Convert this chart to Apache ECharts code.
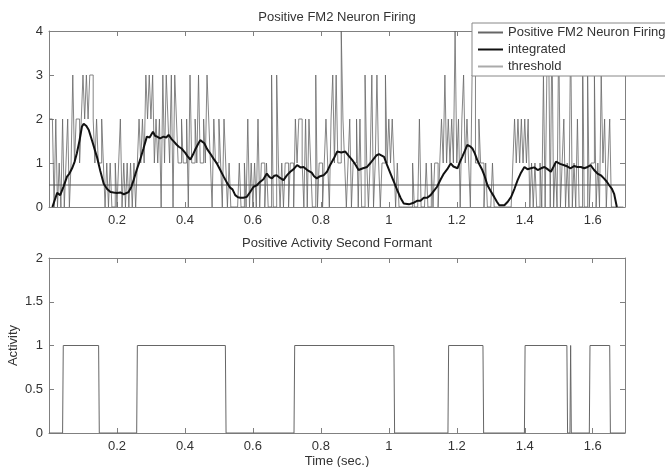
<!DOCTYPE html>
<html>
<head>
<meta charset="utf-8">
<script src="https://cdn.jsdelivr.net/npm/echarts@6/dist/echarts.min.js"></script>
<style>
html,body{margin:0;padding:0;background:#fff;}
#chart{width:665px;height:467px;}
</style>
</head>
<body>
<div id="chart"></div>
<script>
// ---------- data ----------
const topTitle = 'Positive FM2 Neuron Firing';
const bottomTitle = 'Positive Activity Second Formant';
const legendNames = ['Positive FM2 Neuron Firing', 'integrated', 'threshold'];
const xLabel = 'Time (sec.)';
const yLabelBottom = 'Activity';

// spike train (neuron firing counts), sampled every 0.005 s from t = 0
const spikeStart = 0;
const spikeStep = 0.005;
const spikeVals = [
  2,2,2,0,2,0,1,0,2,0, 1,2,0,1,3,1,2,2,1,2,
  3,2,3,2,3,3,2,1,2,1, 1,2,1,0,1,0,1,0,0,1,
  0,1,2,0,1,0,1,0,1,0, 1,0,1,2,1,2,1,3,2,3,
  2,3,1,2,1,2,0,3,1,3, 2,1,3,0,3,2,1,1,2,1,
  1,2,0,3,1,1,2,1,3,1, 1,2,1,3,2,1,0,2,1,1,
  2,1,0,2,1,0,1,0,0,0, 0,0,1,0,0,1,0,2,0,1,
  0,1,0,2,0,1,1,0,1,0, 0,3,0,0,3,1,0,1,0,1,
  1,0,1,1,0,2,1,2,2,1, 0,2,0,2,1,0,0,3,0,1,
  1,0,1,2,1,0,2,3,1,3, 1,1,4,2,1,0,1,2,0,1,
  1,2,0,2,0,0,3,1,0,1, 3,0,1,3,1,0,1,1,3,1,
  2,1,2,1,0,1,0,0,0,0, 0,0,0,0,1,0,0,0,2,0,
  0,0,1,0,0,1,0,1,1,0, 1,2,1,3,1,2,1,2,1,4,
  1,2,0,2,3,1,2,1,0,3, 3,1,1,2,1,1,0,1,0,0,
  0,1,0,0,0,0,0,0,0,0, 0,0,0,1,2,1,2,1,2,1,
  2,1,2,0,1,0,1,0,0,1, 0,3,0,3,4,0,4,0,1,0,
  4,0,1,2,0,1,0,4,0,1, 0,2,0,0,4,0,0,3,0,1,
  1,3,0,1,0,3,1,2,0,1, 2,0,0,0,0,0,0,0,0
];

// integrated (smoothed) firing: [time, value]
const integrated = [
  [0.010,0],[0.024,0.32],[0.033,0.27],[0.043,0.47],[0.053,0.69],[0.060,0.76],[0.068,0.88],[0.075,1.02],[0.082,1.22],[0.090,1.52],[0.097,1.83],
  [0.102,1.89],[0.110,1.84],[0.117,1.75],[0.129,1.45],[0.141,1.14],[0.151,0.82],[0.161,0.53],[0.171,0.41],[0.181,0.34],[0.190,0.33],[0.200,0.32],[0.210,0.33],[0.220,0.29],
  [0.234,0.34],[0.242,0.45],[0.249,0.61],[0.258,0.84],[0.268,1.07],[0.278,1.33],[0.288,1.60],[0.296,1.58],[0.306,1.71],[0.312,1.62],[0.318,1.60],[0.327,1.56],[0.337,1.60],
  [0.345,1.58],[0.352,1.64],[0.360,1.55],[0.367,1.49],[0.375,1.42],[0.382,1.37],[0.390,1.33],[0.401,1.23],[0.408,1.15],[0.416,1.08],[0.423,1.18],[0.430,1.30],[0.438,1.42],[0.445,1.52],
  [0.457,1.45],[0.465,1.32],[0.474,1.22],[0.484,1.10],[0.494,0.99],[0.504,0.84],[0.514,0.69],[0.523,0.56],[0.533,0.44],[0.540,0.40],[0.548,0.27],[0.556,0.22],[0.563,0.21],
  [0.572,0.21],[0.582,0.23],[0.592,0.34],[0.602,0.46],[0.611,0.49],[0.621,0.57],[0.631,0.63],[0.641,0.76],[0.649,0.68],[0.656,0.65],[0.663,0.71],[0.670,0.72],[0.680,0.66],[0.690,0.61],
  [0.700,0.72],[0.710,0.80],[0.720,0.86],[0.730,0.95],[0.740,0.90],[0.749,0.91],[0.760,0.84],[0.773,0.78],[0.780,0.70],[0.788,0.65],[0.798,0.70],[0.808,0.72],[0.818,0.80],[0.827,0.95],
  [0.838,1.10],[0.848,1.26],[0.860,1.24],[0.872,1.26],[0.882,1.16],[0.892,1.07],[0.902,0.96],[0.911,0.84],[0.924,0.88],[0.936,0.91],[0.946,1.00],[0.956,1.10],[0.963,1.17],[0.971,1.20],
  [0.986,1.14],[0.995,0.95],[1.005,0.76],[1.015,0.57],[1.025,0.38],[1.035,0.20],[1.044,0.08],[1.059,0.06],[1.071,0.09],[1.083,0.14],[1.093,0.14],[1.103,0.21],
  [1.113,0.21],[1.123,0.27],[1.132,0.36],[1.142,0.46],[1.152,0.62],[1.162,0.76],[1.172,0.86],[1.182,0.99],[1.190,0.92],[1.202,0.88],[1.209,1.02],[1.216,1.14],[1.224,1.28],[1.231,1.41],
  [1.239,1.38],[1.246,1.33],[1.253,1.22],[1.260,1.07],[1.267,0.96],[1.275,0.84],[1.282,0.70],[1.290,0.50],[1.300,0.36],[1.310,0.23],[1.318,0.12],[1.325,0.04],[1.340,0.04],
  [1.350,0.12],[1.360,0.23],[1.370,0.42],[1.379,0.61],[1.389,0.78],[1.399,0.91],[1.408,0.86],[1.418,0.88],[1.428,0.90],[1.438,0.84],[1.448,0.88],[1.458,0.91],[1.467,0.86],[1.477,0.80],
  [1.485,0.92],[1.492,1.03],[1.504,0.98],[1.516,0.95],[1.526,0.92],[1.535,0.88],[1.545,0.93],[1.555,0.91],[1.565,0.91],[1.575,0.88],[1.585,0.91],[1.594,0.95],[1.604,0.84],[1.614,0.76],
  [1.624,0.72],[1.633,0.65],[1.641,0.58],[1.648,0.50],[1.656,0.42],[1.663,0.30],[1.671,0]
];

const thresholdValue = 0.5;

// activity (bottom panel): [time, value]
const activity = [
  [0.000,0],[0.040,0],[0.042,1],[0.146,1],[0.148,0],
  [0.258,0],[0.260,1],[0.519,1],[0.521,0],
  [0.721,0],[0.723,1],[1.015,1],[1.017,0],
  [1.174,0],[1.176,1],[1.277,1],[1.279,0],
  [1.399,0],[1.401,1],[1.524,1],[1.526,0],
  [1.533,0],[1.535,1],[1.537,0],
  [1.590,0],[1.592,1],[1.650,1],[1.652,0],[1.695,0]
];

const xMin = 0, xMax = 1.695, xStep = 0.2;
const yTopMax = 4, yTopStep = 1;
const yBotMax = 2, yBotStep = 0.5;

// ---------- chart ----------
const spikeData = spikeVals.map((v, i) => [+(spikeStart + i * spikeStep).toFixed(4), v]);

const FONT = 'Liberation Sans, Arial, sans-serif';
const boxColor = '#808080';
const textColor = '#333';

function xAx(gridIndex, pos, labels, name) {
  return {
    type: 'value', gridIndex, position: pos, min: xMin, max: xMax, interval: xStep,
    axisLine: { show: true, onZero: false, lineStyle: { color: boxColor, width: 1 } },
    axisTick: { show: true, inside: true, length: 5, lineStyle: { color: boxColor } },
    axisLabel: { show: labels, margin: 7, color: textColor, fontSize: 13, fontFamily: FONT, showMinLabel: false, showMaxLabel: false },
    splitLine: { show: false },
    name: name || '', nameLocation: 'middle', nameGap: 22,
    nameTextStyle: { color: textColor, fontSize: 13, fontFamily: FONT }
  };
}
function yAx(gridIndex, pos, labels, max, step, name) {
  return {
    type: 'value', gridIndex, position: pos, min: 0, max, interval: step,
    axisLine: { show: true, onZero: false, lineStyle: { color: boxColor, width: 1 } },
    axisTick: { show: true, inside: true, length: 5, lineStyle: { color: boxColor } },
    axisLabel: { show: labels, margin: 6, color: textColor, fontSize: 13, fontFamily: FONT },
    splitLine: { show: false },
    name: name || '', nameLocation: 'middle', nameGap: 29, nameMoveOverlap: false,
    nameTextStyle: { color: textColor, fontSize: 13, fontFamily: FONT }
  };
}

const chart = echarts.init(document.getElementById('chart'), null, { renderer: 'canvas' });
chart.setOption({
  animation: false,
  backgroundColor: '#fff',
  textStyle: { fontFamily: FONT },
  title: [
    { text: topTitle, left: 337, textAlign: 'center', top: 11, padding: 0,
      textStyle: { fontSize: 13, fontWeight: 'normal', color: textColor, fontFamily: FONT } },
    { text: bottomTitle, left: 337, textAlign: 'center', top: 237, padding: 0,
      textStyle: { fontSize: 13, fontWeight: 'normal', color: textColor, fontFamily: FONT } }
  ],
  legend: {
    data: [
      { name: legendNames[0] },
      { name: legendNames[1] },
      { name: legendNames[2], lineStyle: { color: '#aaa' } }
    ],
    orient: 'vertical', left: 472, top: 23,
    itemWidth: 25, itemHeight: 13, itemGap: 4,
    padding: [3, 6, 3, 5],
    backgroundColor: '#fff', borderColor: '#888', borderWidth: 1,
    itemStyle: { opacity: 0, color: 'transparent', borderColor: 'transparent', borderWidth: 0 },
    textStyle: { fontSize: 13, color: textColor, fontFamily: FONT },
    z: 10
  },
  grid: [
    { left: 49, right: 40, top: 31, height: 176, outerBoundsMode: 'none', containLabel: false },
    { left: 49, right: 40, top: 258, height: 175, outerBoundsMode: 'none', containLabel: false }
  ],
  xAxis: [
    xAx(0, 'bottom', true),
    xAx(0, 'top', false),
    xAx(1, 'bottom', true, xLabel),
    xAx(1, 'top', false)
  ],
  yAxis: [
    yAx(0, 'left', true, yTopMax, yTopStep),
    yAx(0, 'right', false, yTopMax, yTopStep),
    yAx(1, 'left', true, yBotMax, yBotStep, yLabelBottom),
    yAx(1, 'right', false, yBotMax, yBotStep)
  ],
  series: [
    { name: legendNames[0], type: 'line', xAxisIndex: 0, yAxisIndex: 0, data: spikeData, step: 'end',
      symbol: 'none', lineStyle: { color: '#666', width: 0.8 }, itemStyle: { color: '#666' }, z: 2 },
    { name: legendNames[1], type: 'line', xAxisIndex: 0, yAxisIndex: 0, data: integrated,
      symbol: 'none', lineStyle: { color: '#111', width: 2 }, itemStyle: { color: '#111' }, z: 4 },
    { name: legendNames[2], type: 'line', xAxisIndex: 0, yAxisIndex: 0,
      data: [[xMin, thresholdValue], [xMax, thresholdValue]],
      symbol: 'none', lineStyle: { color: '#555', width: 1 }, itemStyle: { color: '#999' }, z: 3 },
    { name: 'activity', type: 'line', xAxisIndex: 2, yAxisIndex: 2, data: activity,
      symbol: 'none', lineStyle: { color: '#666', width: 1 }, z: 2 }
  ]
});
</script>
</body>
</html>
